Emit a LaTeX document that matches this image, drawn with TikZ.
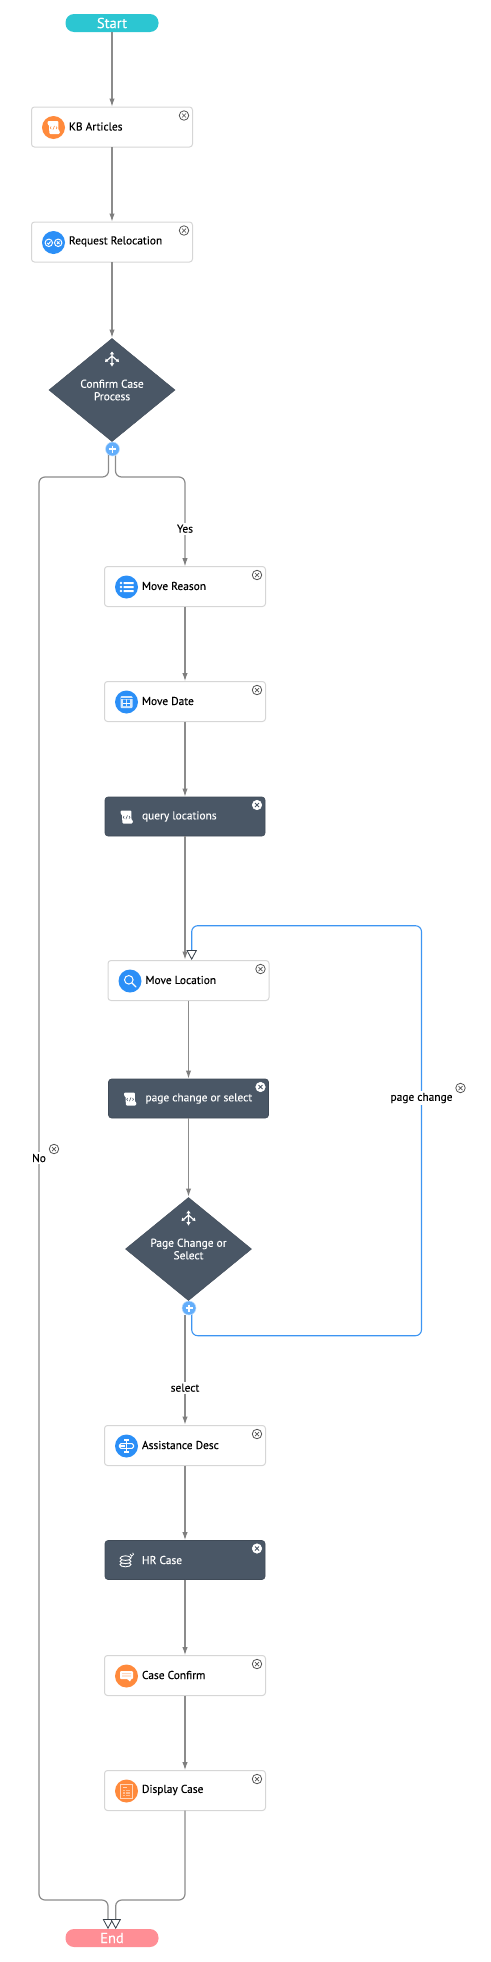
\documentclass[tikz,border=0pt]{standalone}
\usepackage{fontspec}
\setmainfont{PT Sans}[FakeBold=0.12]
\usetikzlibrary{shapes.geometric,arrows.meta,calc}
\definecolor{darkbox}{HTML}{4A5766}
\definecolor{tealc}{HTML}{2CC6D2}
\definecolor{pinkc}{HTML}{FF8E95}
\definecolor{blueic}{HTML}{2B8FF7}
\definecolor{orangeic}{HTML}{FF8A3C}
\definecolor{plusc}{HTML}{63AEFB}
\definecolor{linec}{HTML}{8C8C8C}
\definecolor{loopc}{HTML}{3D95F2}
\definecolor{borderc}{HTML}{D6D6D6}
\definecolor{closec}{HTML}{555555}
\tikzset{
  x=1pt,y=-1pt,
  every node/.style={inner sep=0pt,outer sep=0pt},
  plainbox/.style={draw=borderc,line width=1pt,fill=white,rounded corners=3pt,minimum width=161pt,minimum height=40pt},
  darkstep/.style={draw=darkbox!85!black,line width=.6pt,fill=darkbox,rounded corners=3pt,minimum width=160pt,minimum height=39pt},
  terminal/.style={rounded corners=8.5pt,minimum width=93pt,minimum height=18pt,text=white,font=\fontsize{14.5}{14.5}\selectfont},
  decision/.style={diamond,fill=darkbox,draw=darkbox!85!black,line width=.4pt,minimum width=126pt,minimum height=103pt},
  lab/.style={font=\fontsize{11.4}{12.5}\selectfont,text=black},
  dlab/.style={font=\fontsize{11.4}{12.5}\selectfont,text=white,align=center},
  edgelab/.style={font=\fontsize{11.4}{12.5}\selectfont,text=black,fill=white,inner ysep=2pt,inner xsep=0pt},
  iconbg/.style={circle,minimum size=23pt},
  closeb/.style={circle,draw=closec,line width=.8pt,fill=white,minimum size=9.5pt},
  closed/.style={circle,draw=white,line width=.6pt,fill=white,minimum size=9.5pt},
  plusb/.style={circle,fill=plusc,draw=white!60!plusc,line width=.5pt,minimum size=14pt},
  flow/.style={draw=linec,line width=1.5pt},
  thinflow/.style={draw=linec,line width=1.2pt,rounded corners=6pt},
  loopflow/.style={draw=loopc,line width=1.1pt,rounded corners=6pt},
  solidtip/.style={-{Latex[length=8.5pt,width=5.5pt,color=linec!90!black]}},
  opentip/.style={-{Triangle[length=10pt,width=10.5pt,fill=white,color=darkbox!70!black,line width=.8pt]}},
}
\newcommand\xmark[3]{\draw[#2,line width=#3] ($(#1)+(-2,-2)$) -- ($(#1)+(2,2)$) ($(#1)+(-2,2)$) -- ($(#1)+(2,-2)$);}
\newcommand\gScroll[2]{%
  \fill[#1,rounded corners=1pt] (-6,-6.5) -- (5,-6.5) -- (4.8,0) -- (5.2,3.5) -- (6.5,3.5) -- (6,6.5) -- (-4,6.5) -- (-4.5,0) -- (-4.5,-3) -- (-6,-3) -- cycle;
  \draw[#2,line width=.55pt] (-2.3,-1) -- (-3.3,.3) -- (-2.3,1.6) (2.5,-1) -- (3.5,.3) -- (2.5,1.6) (1,-1.6) -- (-.6,2.2);}
\newcommand\gBino[2]{%
  \draw[#1,line width=1pt] (-4.7,.3) circle (3.7) (4.7,.3) circle (3.7);
  \draw[#1,line width=.9pt] (-6.3,.4) -- (-5,1.7) -- (-3,-1) (3.4,-1) -- (6,1.6) (3.4,1.6) -- (6,-1);}
\newcommand\gList[2]{%
  \fill[#1] (-5.5,-4) circle (1.3) (-5.5,0) circle (1.3) (-5.5,4) circle (1.3);
  \fill[#1] (-3,-5) rectangle (7,-3) (-3,-1) rectangle (7,1) (-3,3) rectangle (7,5);}
\newcommand\gCal[2]{%
  \fill[#1,opacity=.8,rounded corners=1pt] (-6,-6) rectangle (6,6);
  \fill[#2] (-3.4,-2.5) rectangle (-.6,4) (.6,-2.5) rectangle (3.4,4);
  \draw[#1,line width=.6pt] (-3.4,.8) -- (3.4,.8);
  \fill[#2] (-6,-3.6) rectangle (6,-3);}
\newcommand\gSearch[2]{%
  \draw[#1,line width=1pt] (-1.2,-1.2) circle (4.3);
  \draw[#1,line width=1.2pt,line cap=round] (1.9,1.9) -- (6,6);}
\newcommand\gCursor[2]{%
  \draw[#1,line width=1.1pt,rounded corners=1.5pt] (-7,-2.4) rectangle (7,2.4);
  \fill[#1] (-7,-1.1) rectangle (0,1.1);
  \draw[#2,line width=3pt] (0,-1.6) -- (0,1.6);
  \draw[#1,line width=1.2pt] (0,-5.5) -- (0,5.5) (-2.2,-6) -- (2.2,-6) (-2.2,6) -- (2.2,6);}
\newcommand\gChat[2]{%
  \fill[#1,rounded corners=1pt] (-6.5,-5) -- (6.5,-5) -- (6.5,3) -- (4,3) -- (4,6) -- (1,3) -- (-6.5,3) -- cycle;
  \fill[#2!35!white] (-4.5,-3) rectangle (4.5,-1.8) (-4.5,-.6) rectangle (4.5,.6);}
\newcommand\gForm[2]{%
  \draw[#1!65!#2,line width=.9pt] (-6,-7) rectangle (6,7);
  \fill[#1!65!#2] (-3.5,-4.3) rectangle (.5,-3.4);
  \fill[#1!45!#2] (-3.5,-1.3) rectangle (3.7,4.8);
  \draw[#2,line width=.5pt] (-1,-1.3) -- (-1,4.8) (-3.5,.7) -- (3.7,.7) (-3.5,2.8) -- (3.7,2.8);}
\newcommand\gDb[2]{%
  \draw[#1,line width=.9pt,fill=#2] (-1,4) ellipse (5.4 and 2.3);
  \draw[#1,line width=.9pt,fill=#2] (-1,.8) ellipse (5.4 and 2.3);
  \draw[#1,line width=.9pt,fill=#2] (-1,-2.4) ellipse (5.4 and 2.3);
  \draw[#1,line width=.8pt] (3.6,-6.2) arc (180:-60:1.7) (5,-3.7) -- (4.9,-3);}
\newcommand\gBranch[2]{%
  \draw[#1,line width=1.2pt] (0,-6) -- (0,5) (0,-3) -- (-5,1.5) (0,-3) -- (5,1.5);
  \fill[#1] (0,-7.5) -- (-2.2,-4.6) -- (2.2,-4.6) -- cycle;
  \fill[#1] (0,7.5) -- (-2.2,4) -- (2.2,4) -- cycle;
  \fill[#1] (-7,3) -- (-6.3,-.5) -- (-3.6,2.4) -- cycle;
  \fill[#1] (7,3) -- (6.3,-.5) -- (3.6,2.4) -- cycle;}
\newcommand\lightstep[6]{%
  \node[plainbox] (#1) at (#2,#3) {};
  \node[iconbg,fill=#5] (#1icon) at ($(#1.west)+(22,0.5)$) {};
  \begin{scope}[shift={(#1icon)}]#6{white}{#5}\end{scope}
  \node[lab,anchor=west] (#1text) at ($(#1.west)+(37.5,-0.5)$) {#4};
  \node[closeb] (#1close) at ($(#1.center)+(72,-11.5)$) {};
  \xmark{#1close}{closec}{.7pt}}
\newcommand\darkstepnode[5]{%
  \node[darkstep] (#1) at (#2,#3) {};
  \coordinate (#1icon) at ($(#1.west)+(21.5,0.5)$);
  \begin{scope}[shift={(#1icon)}]#5{white}{darkbox}\end{scope}
  \node[lab,text=white,anchor=west] (#1text) at ($(#1.west)+(37,0)$) {#4};
  \node[closed] (#1close) at ($(#1.center)+(72,-11.5)$) {};
  \xmark{#1close}{darkbox}{.9pt}}
\newcommand\decisionnode[4]{%
  \node[decision] (#1) at (#2,#3) {};
  \coordinate (#1icon) at ($(#1.center)+(0,-31)$);
  \begin{scope}[shift={(#1icon)}]\gBranch{white}{darkbox}\end{scope}
  \node[dlab] (#1text) at ($(#1.center)+(0,0)$) {#4};
  \node[plusb] (#1plus) at ($(#1.south)+(0.5,7.5)$) {};
  \draw[white,line width=1.4pt] ($(#1plus)+(-3.5,0)$) -- ($(#1plus)+(3.5,0)$) ($(#1plus)+(0,-3.5)$) -- ($(#1plus)+(0,3.5)$);}
\begin{document}
\begin{tikzpicture}
\useasboundingbox (0,0) rectangle (490,1962);
\node[terminal,fill=tealc,rounded corners=8.5pt] (start) at (112,23) {Start};
\lightstep{kb}{112}{127}{KB Articles}{orangeic}{\gScroll}
\lightstep{req}{112}{242}{Request Relocation}{blueic}{\gBino}
\lightstep{reason}{185}{586.5}{Move Reason}{blueic}{\gList}
\lightstep{date}{185}{701.5}{Move Date}{blueic}{\gCal}
\darkstepnode{query}{185}{816.5}{query locations}{\gScroll}
\lightstep{loc}{188.5}{980.5}{Move Location}{blueic}{\gSearch}
\darkstepnode{page}{188.5}{1098.5}{page change or select}{\gScroll}
\lightstep{assist}{185}{1445.5}{Assistance Desc}{blueic}{\gCursor}
\darkstepnode{hr}{185}{1560}{HR Case}{\gDb}
\lightstep{confirm}{185}{1675.5}{Case Confirm}{orangeic}{\gChat}
\lightstep{display}{185}{1790.5}{Display Case}{orangeic}{\gForm}
\node[terminal,fill=pinkc,rounded corners=8.5pt] (end) at (112,1938) {End};
\coordinate (cfmL) at (108.5,448);
\coordinate (cfmR) at (115.5,448);
\coordinate (endL) at (108,1929);
\coordinate (endR) at (115.7,1929);
\draw[flow,solidtip] (start.south) -- (kb.north);
\draw[flow,solidtip] (kb.south) -- (req.north);
\draw[flow,solidtip] (reason.south) -- (date.north);
\draw[flow,solidtip] (date.south) -- (query.north);
\draw[flow,solidtip] (loc.south) -- (page.north);
\draw[flow,solidtip] (assist.south) -- (hr.north);
\draw[flow,solidtip] (hr.south) -- (confirm.north);
\draw[flow,solidtip] (confirm.south) -- (display.north);
\coordinate (locIn) at (185,960);
\draw[flow,solidtip] (query.south) -- (locIn);
\coordinate (loopIn) at (191.7,960);
\coordinate (loopOut) at (191.7,1308);
\coordinate (loopBR) at (421.5,1335.7);
\coordinate (loopTL) at (191.7,925.7);
\draw[loopflow,opentip] (loopOut) |- (loopBR) |- (loopTL) -- (loopIn);
\draw[thinflow,solidtip] (cfmR) -- (115.5,477) -- (185,477) -- (reason.north);
\draw[thinflow,opentip] (cfmL) -- (108.5,477) -- (39,477) -- (39,1900) -- (108,1900) -- (endL);
\draw[thinflow,opentip] (display.south) -- (185,1900) -- (115.7,1900) -- (endR);
\draw[flow,solidtip] (req.south) -- (112,338);
\decisionnode{cfm}{112}{390}{Confirm Case\\Process}
\draw[flow,solidtip] (page.south) -- (188.5,1197);
\decisionnode{pcs}{188.5}{1249}{Page Change or\\Select}
\coordinate (selIn) at (185,1425);
\coordinate (selOut) at (185,1315);
\draw[flow,solidtip] (selOut) -- (selIn);
\node[edgelab] (yes) at (185,528.7) {Yes};
\node[edgelab] (no) at (39,1158) {No};
\node[closeb] (noclose) at (54,1149) {};
\xmark{noclose}{closec}{.7pt}
\node[edgelab] (pc) at (421.5,1098) {page change};
\node[closeb] (pcclose) at (460.5,1088) {};
\xmark{pcclose}{closec}{.7pt}
\node[edgelab] (sel) at (185,1387.7) {select};
\end{tikzpicture}
\end{document}
